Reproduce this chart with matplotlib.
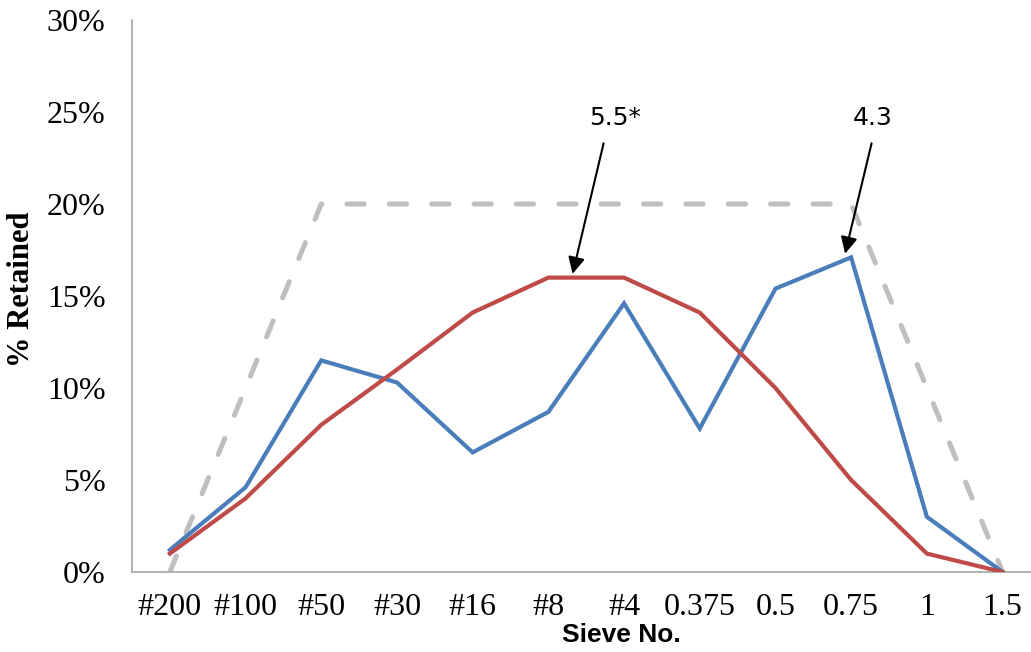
import matplotlib
matplotlib.use("Agg")
import matplotlib.pyplot as plt

# sieve sizes and percent retained on each
sieves = ['#200', '#100', '#50', '#30', '#16', '#8', '#4',
          '0.375', '0.5', '0.75', '1', '1.5']
measured = [1.2, 4.6, 11.5, 10.3, 6.5, 8.7, 14.6, 7.8, 15.4, 17.1, 3.0, 0.0]
ideal = [1.0, 4.0, 8.0, 11.0, 14.1, 16.0, 16.0, 14.1, 10.0, 5.0, 1.0, 0.0]
limit = [0, 10, 20, 20, 20, 20, 20, 20, 20, 20, 10, 0]
y_ticks = [0, 5, 10, 15, 20, 25, 30]
y_labels = ['0%', '5%', '10%', '15%', '20%', '25%', '30%']

# callouts: text, text position, arrow tail, arrow head
notes = [
    ('5.5*', (5.88, 24.7), (5.73, 23.3), (5.32, 16.2)),
    ('4.3', (9.29, 24.7), (9.27, 23.3), (8.92, 17.3)),
]

plt.rcParams['lines.scale_dashes'] = False

W, H = 1031, 652
fig = plt.figure(figsize=(W / 100, H / 100), dpi=100)
step = 75.7
ax = fig.add_axes([132 / W, (H - 572) / H, 12 * step / W, 552 / H])

x = list(range(len(sieves)))
ax.plot(x, limit, color='#BFBFBF', lw=3.6, linestyle=(0, (12.5, 18)),
        dash_capstyle='round', zorder=2)
ax.plot(x, measured, color='#4A7EBB', lw=3.0, solid_joinstyle='miter', zorder=3)
ax.plot(x, ideal, color='#BE4B48', lw=3.0, solid_joinstyle='miter', zorder=4)

for label, txt, tail, head in notes:
    ax.text(txt[0], txt[1], label, ha='center', va='center',
            fontsize=18, family='DejaVu Sans', color='black')
    ax.annotate('', xy=head, xytext=tail,
                arrowprops=dict(arrowstyle='-|>,head_length=1.0,head_width=0.5',
                                color='black', lw=1.5, shrinkA=0, shrinkB=0))

ax.set_xlim(-0.5, 11.5)
ax.set_ylim(0, 30)
ax.set_xticks(x)
ax.set_xticklabels(sieves, family='Liberation Serif', fontsize=23)
ax.set_yticks(y_ticks)
ax.set_yticklabels(y_labels, family='Liberation Serif', fontsize=23)
ax.tick_params(axis='both', length=0)
ax.tick_params(axis='y', pad=19)
ax.tick_params(axis='x', pad=15)

for side in ['top', 'right']:
    ax.spines[side].set_visible(False)
for side in ['left', 'bottom']:
    ax.spines[side].set_color('#A6A6A6')
    ax.spines[side].set_linewidth(1.2)

fig.text(22 / W, 1 - 289 / H, '% Retained', rotation=90, ha='center', va='center',
         family='Liberation Serif', fontweight='bold', fontsize=22)
fig.text(621 / W, 1 - 635 / H, 'Sieve No.', ha='center', va='center',
         family='Liberation Sans', fontweight='bold', fontsize=19)

fig.savefig('out.png', dpi=100)
